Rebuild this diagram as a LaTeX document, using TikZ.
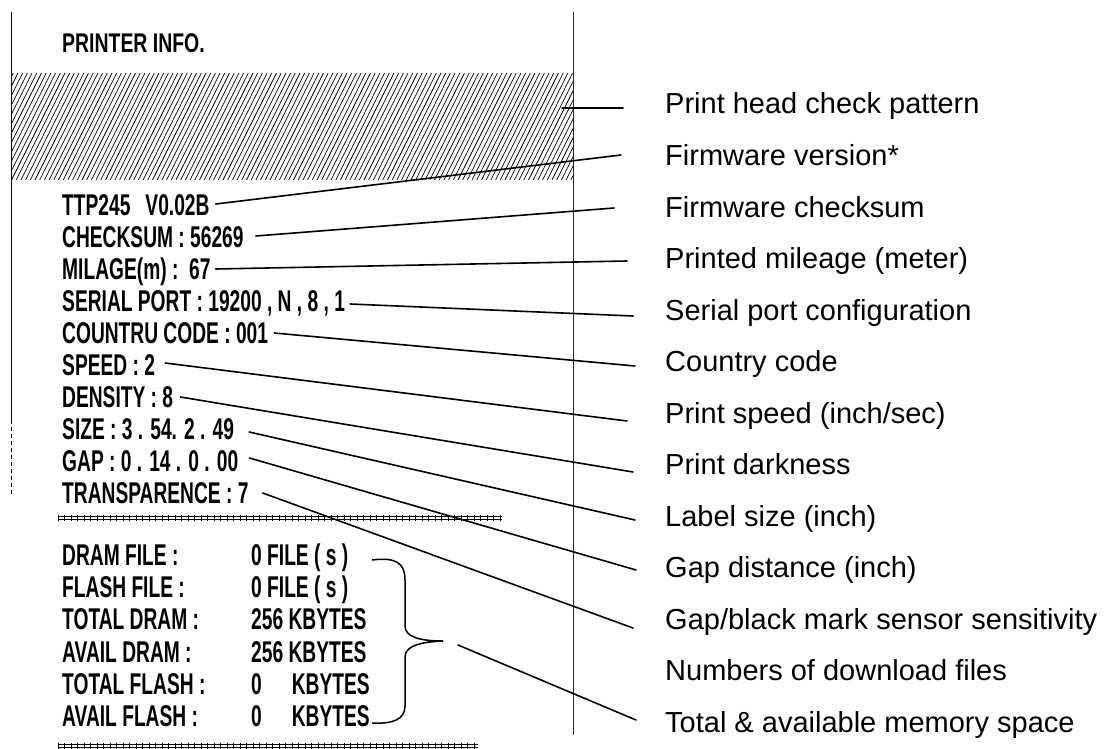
\documentclass[tikz,border=0pt]{standalone}
\usepackage{fontspec}
\setmainfont{Liberation Sans}
\newfontfamily\rcpt[FakeStretch=0.64]{Liberation Sans}
\newfontfamily\rcpttitle[FakeStretch=0.72]{Liberation Sans}
\begin{document}
\begin{tikzpicture}[x=1pt,y=-1pt,
  lbl/.style={anchor=base west, inner sep=0pt, font=\fontsize{29}{30}\selectfont},
  rc/.style={anchor=base west, inner sep=0pt, font=\rcpt\bfseries\fontsize{30}{32}\selectfont, text height=20pt, text depth=0pt},
  conn/.style={line width=1.6pt, line cap=round},
  hatchline/.style={line width=0.7pt},
  ruletick/.style={line width=1pt}]
\useasboundingbox (0,0) rectangle (1106,749);

% paper edges
\draw[line width=0.9pt] (11.5,12) -- (11.5,420);
\draw[line width=0.7pt, dash pattern=on 4pt off 3pt] (11.5,420) -- (11.5,495);

% print head check pattern
\begin{scope}
  \clip (11.5,74) rectangle (573,180);
  \foreach \i in {0,...,140} \draw[hatchline] ({-60+4.7*\i},182) -- ({-60+4.7*\i+55},72);
\end{scope}
\draw[line width=0.8pt, black!85] (573,12) -- (573,735);

% header
\node[rc, font=\rcpttitle\bfseries\fontsize{27}{29}\selectfont] (title) at (62,53) {PRINTER INFO.};

% info rows
\node[rc] (t1)  at (62,215) {TTP245\hspace{15pt}V0.02B};
\node[rc] (t2)  at (62,247) {CHECKSUM : 56269};
\node[rc] (t3)  at (62,279) {MILAGE(m) :\ \ 67};
\node[rc] (t4)  at (62,311) {SERIAL PORT : 19200 , N , 8 , 1};
\node[rc] (t5)  at (62,343) {COUNTRU CODE : 001};
\node[rc] (t6)  at (62,375) {SPEED : 2};
\node[rc] (t7)  at (62,407) {DENSITY : 8};
\node[rc] (t8)  at (62,439) {SIZE : 3 . 54. 2 . 49};
\node[rc] (t9)  at (62,471) {GAP : 0 . 14 . 0 . 00};
\node[rc] (t10) at (62,503) {TRANSPARENCE : 7};

% rules
\foreach \ry/\rx in {518/502, 746/478} {
  \draw[ruletick] (58,\ry-1.6) -- (\rx,\ry-1.6);
  \draw[ruletick] (58,\ry+1.6) -- (\rx,\ry+1.6);
  \foreach \x in {58,64.5,...,\rx} \draw[ruletick] (\x,\ry-3) -- (\x,\ry+3);
}

% memory rows
\node[rc] (m1) at (62,565) {DRAM FILE :};
\node[rc] (m2) at (62,597) {FLASH FILE :};
\node[rc] (m3) at (62,629.5) {TOTAL DRAM :};
\node[rc] (m4) at (62,662) {AVAIL DRAM :};
\node[rc] (m5) at (62,694) {TOTAL FLASH :};
\node[rc] (m6) at (62,726) {AVAIL FLASH :};
\node[rc] (v1) at (251,565) {0 FILE ( s )};
\node[rc] (v2) at (251,597) {0 FILE ( s )};
\node[rc] (v3) at (251,629.5) {256 KBYTES};
\node[rc] (v4) at (251,662) {256 KBYTES};
\node[rc] (v5) at (251,694) {0\hspace{30pt}KBYTES};
\node[rc] (v6) at (251,726) {0\hspace{30pt}KBYTES};

% brace
\coordinate (btop) at (372,560);
\coordinate (bbot) at (372,723);
\coordinate (btip) at (443,641);
\draw[line width=1.5pt]
  (btop) .. controls (396,557) and (405,563) .. (405,580)
  -- (405,626) .. controls (405,637) and (420,641) .. (btip)
  .. controls (420,642) and (405,646) .. (405,657)
  -- (405,706) .. controls (405,720) and (392,724) .. (bbot);

% labels
\node[lbl] (l0)  at (665,114)   {Print head check pattern};
\node[lbl] (l1)  at (665,165.5) {Firmware version*};
\node[lbl] (l2)  at (665,217)   {Firmware checksum};
\node[lbl] (l3)  at (665,268.5) {Printed mileage (meter)};
\node[lbl] (l4)  at (665,320)   {Serial port configuration};
\node[lbl] (l5)  at (665,371.5) {Country code};
\node[lbl] (l6)  at (665,423)   {Print speed (inch/sec)};
\node[lbl] (l7)  at (665,474.5) {Print darkness};
\node[lbl] (l8)  at (665,526)   {Label size (inch)};
\node[lbl] (l9)  at (665,577.5) {Gap distance (inch)};
\node[lbl] (l10) at (665,629)   {Gap/black mark sensor sensitivity};
\node[lbl] (l11) at (665,680.5) {Numbers of download files};
\node[lbl] (l12) at (665,732)   {Total \& available memory space};

% connector end points
\coordinate (ph)  at (562,108);
\coordinate (e0)  at (623,108);
\coordinate (e1)  at (621,155);
\coordinate (e2)  at (614,208);
\coordinate (e3)  at (627,261);
\coordinate (e4)  at (633,316);
\coordinate (e5)  at (635,366);
\coordinate (e6)  at (627,421);
\coordinate (e7)  at (633,472);
\coordinate (e8)  at (635,520);
\coordinate (e9)  at (636,570);
\coordinate (e10) at (633,628);
\coordinate (e12) at (636,720);

% connectors
\draw[conn] (ph) -- (e0);
\draw[conn] ([xshift=6pt,yshift=1pt]t1.east) -- (e1);
\draw[conn] ([xshift=12pt,yshift=1pt]t2.east) -- (e2);
\draw[conn] ([xshift=5pt]t3.east) -- (e3);
\draw[conn] ([xshift=5pt,yshift=-3pt]t4.east) -- (e4);
\draw[conn] ([xshift=6pt]t5.east) -- (e5);
\draw[conn] ([xshift=10pt,yshift=2pt]t6.east) -- (e6);
\draw[conn] ([xshift=7pt]t7.east) -- (e7);
\draw[conn] ([xshift=15pt,yshift=-3pt]t8.east) -- (e8);
\draw[conn] ([xshift=11pt,yshift=3pt]t9.east) -- (e9);
\draw[conn] ([xshift=14pt]t10.east) -- (e10);
\draw[conn] ([xshift=15pt,yshift=-4pt]btip) -- (e12);
\end{tikzpicture}
\end{document}
